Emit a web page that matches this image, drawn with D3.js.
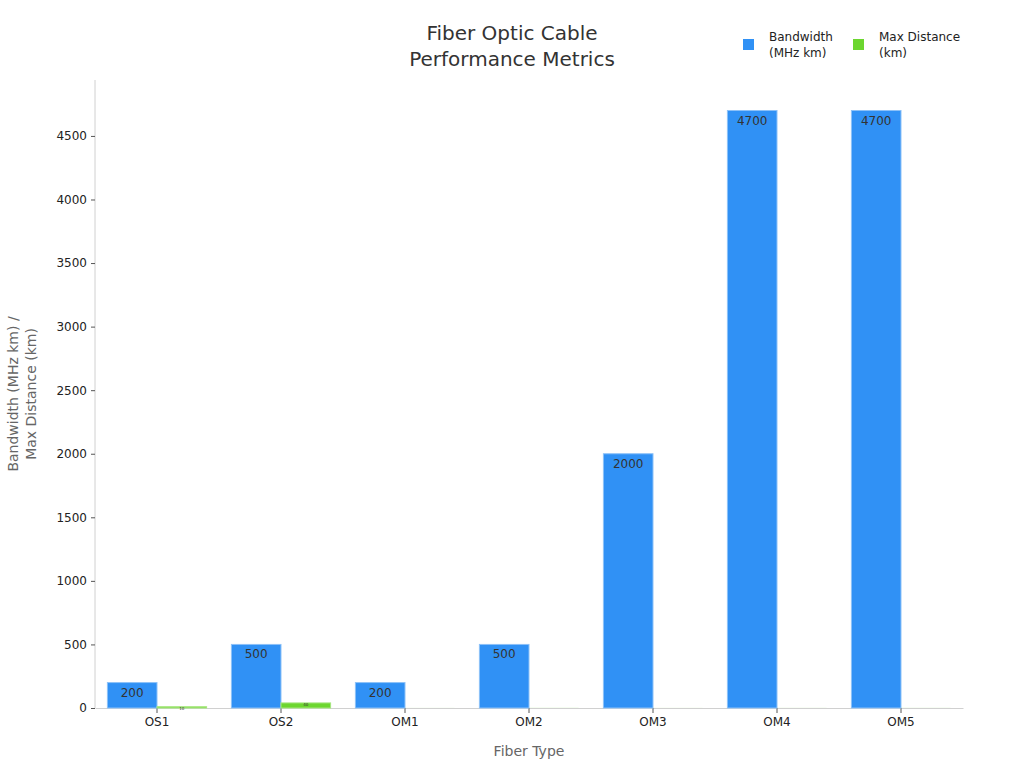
<!DOCTYPE html>
<html><head><meta charset="utf-8">
<script src="https://cdn.jsdelivr.net/npm/d3@7/dist/d3.min.js"></script>
<style>body{margin:0;background:#fff;font-family:"DejaVu Sans",sans-serif}</style>
</head><body><svg id="c" width="1024" height="768"></svg>
<script>
const categories = ["OS1","OS2","OM1","OM2","OM3","OM4","OM5"];
const bandwidth = [200,500,200,500,2000,4700,4700];
const maxDistance = [10,40,0.275,0.55,0.3,0.4,0.44];
const seriesNames = [["Bandwidth","(MHz km)"],["Max Distance","(km)"]];
const colors = ["#3091f5","#6cd62f"];
const yTicks = [0,500,1000,1500,2000,2500,3000,3500,4000,4500];

const svg = d3.select("#c");
const m = {l:95, r:963, t:80, b:708};
const x0 = d3.scaleBand().domain(categories).range([m.l,m.r]).paddingInner(0.2).paddingOuter(0.1);
const x1 = d3.scaleBand().domain([0,1]).range([0,x0.bandwidth()]).padding(0);
const y = d3.scaleLinear().domain([0,4940]).range([m.b,m.t]);

// y axis
const ya = svg.append("g").attr("transform",`translate(${m.l},0)`)
  .call(d3.axisLeft(y).tickValues(yTicks).tickSize(4).tickPadding(4).tickFormat(d3.format("d")));
ya.select(".domain").attr("stroke","#d0d0d0").attr("d",`M0,${m.t}V${m.b}`);
ya.selectAll(".tick line").attr("stroke","#555");
ya.selectAll("text").attr("font-size",12).attr("fill","#222").attr("font-family","DejaVu Sans");

// x axis
const xa = svg.append("g").attr("transform",`translate(0,${m.b})`)
  .call(d3.axisBottom(x0).tickSize(5).tickPadding(4).tickSizeOuter(0));
xa.select(".domain").attr("stroke","#d0d0d0");
xa.selectAll(".tick line").attr("stroke","#555");
xa.selectAll("text").attr("font-size",12).attr("fill","#222").attr("font-family","DejaVu Sans");

const series = [bandwidth, maxDistance];
series.forEach((vals,si)=>{
  const g = svg.append("g");
  g.selectAll("rect").data(vals).join("rect")
    .attr("x",(d,i)=>x0(categories[i])+x1(si))
    .attr("width",x1.bandwidth())
    .attr("y",d=>y(d))
    .attr("height",d=>m.b-y(d))
    .attr("fill",colors[si])
    .attr("stroke", d => si===0 ? "#8cc1f8" : (d>=1 ? "#a6e67f" : "none"))
    .attr("stroke-width",1);
  if(si===0){
    g.selectAll("text").data(vals).join("text")
      .attr("x",(d,i)=>x0(categories[i])+x1(si)+x1.bandwidth()/2)
      .attr("y",d=>y(d)+14)
      .attr("text-anchor","middle").attr("font-size",12).attr("fill","#333")
      .text(d=>d);
  } else {
    g.selectAll("text").data(vals).join("text")
      .attr("x",(d,i)=>x0(categories[i])+x1(si)+x1.bandwidth()/2)
      .attr("y",d=>y(d)+3.5)
      .attr("text-anchor","middle").attr("font-size",4).attr("fill","#333")
      .text(d=>d>=1?d:"");
  }
});

// title
svg.append("text").attr("x",512).attr("y",40).attr("text-anchor","middle").attr("font-size",20).attr("fill","#333").text("Fiber Optic Cable");
svg.append("text").attr("x",512).attr("y",66).attr("text-anchor","middle").attr("font-size",20).attr("fill","#333").text("Performance Metrics");

// axis titles
svg.append("text").attr("x",529).attr("y",756).attr("text-anchor","middle").attr("font-size",14).attr("fill","#666").text("Fiber Type");
const yt = svg.append("text").attr("transform",`translate(18,394) rotate(-90)`).attr("text-anchor","middle").attr("font-size",14).attr("fill","#666");
yt.append("tspan").attr("x",0).attr("dy",0).text("Bandwidth (MHz km) /");
yt.append("tspan").attr("x",0).attr("dy",18).text("Max Distance (km)");

// legend
const lx = [743,853];
seriesNames.forEach((n,i)=>{
  svg.append("rect").attr("x",lx[i]).attr("y",39).attr("width",11).attr("height",11).attr("fill",colors[i]);
  const t = svg.append("text").attr("font-size",12).attr("fill","#222");
  t.append("tspan").attr("x",lx[i]+26).attr("y",41).text(n[0]);
  t.append("tspan").attr("x",lx[i]+26).attr("y",57).text(n[1]);
});
</script></body></html>
